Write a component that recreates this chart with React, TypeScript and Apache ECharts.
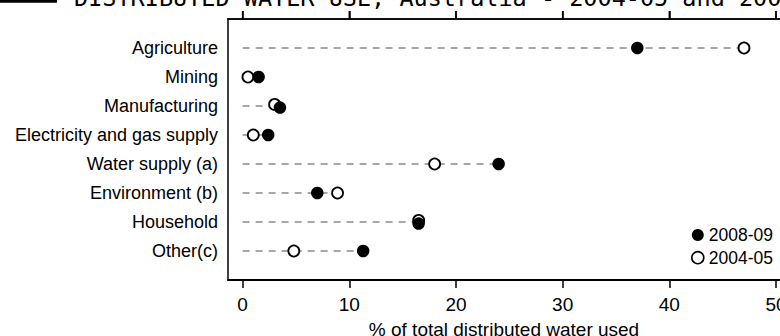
import React, { useEffect, useRef } from "react";
import * as echarts from "echarts";

// Share of total distributed water used, by sector
const categories = [
  "Agriculture",
  "Mining",
  "Manufacturing",
  "Electricity and gas supply",
  "Water supply (a)",
  "Environment (b)",
  "Household",
  "Other(c)",
];
const use200809 = [37.0, 1.5, 3.5, 2.4, 24.0, 7.0, 16.5, 11.3];
const use200405 = [47.0, 0.5, 3.0, 1.0, 18.0, 8.9, 16.5, 4.8];
const xTicks = [0, 10, 20, 30, 40, 50];

const TITLE = "DISTRIBUTED WATER USE, Australia - 2004-05 and 2008-09";
const X_MIN = -1.37;
const X_MAX = 50.375;
const GRID_LEFT = 228;
const GRID_TOP = 19;
const GRID_WIDTH = 552;
const GRID_HEIGHT = 261;
const TICK_LEN = 8;
// nearly coincident points are drawn a little apart vertically
const NUDGE = 0.055;

function rowOffset(i: number): number {
  return Math.abs(use200809[i] - use200405[i]) < 0.8 ? NUDGE : 0;
}

export default function App() {
  const ref = useRef<HTMLDivElement>(null);

  useEffect(() => {
    if (!ref.current) return;
    const chart = echarts.init(ref.current, null, { renderer: "svg" });

    const option: any = {
      animation: false,
      textStyle: { fontFamily: "Liberation Sans" },
      grid: {
        left: GRID_LEFT,
        top: GRID_TOP,
        width: GRID_WIDTH,
        height: GRID_HEIGHT,
        containLabel: false,
        outerBoundsMode: "none",
      },
      graphic: [
        {
          type: "rect",
          id: "titleBar",
          silent: true,
          shape: { x: 0, y: 0, width: 57, height: 2.7 },
          style: { fill: "#000" },
        },
        {
          type: "text",
          id: "title",
          x: 74,
          y: -2.5,
          silent: true,
          style: {
            text: TITLE,
            fontSize: 23.5,
            fontFamily: "DejaVu Sans Mono",
            fill: "#000",
            align: "left",
            verticalAlign: "middle",
          },
        },
      ],
      xAxis: [
        {
          type: "value",
          position: "bottom",
          min: X_MIN,
          max: X_MAX,
          axisLine: { show: true, onZero: false, lineStyle: { color: "#000", width: 2 } },
          axisTick: {
            show: true,
            customValues: xTicks,
            length: TICK_LEN,
            lineStyle: { color: "#000", width: 1.5 },
          },
          axisLabel: {
            customValues: xTicks,
            color: "#000",
            fontSize: 19,
            margin: 15,
            fontFamily: "Liberation Sans",
          },
          splitLine: { show: false },
          name: "% of total distributed water used",
          nameLocation: "middle",
          nameGap: 40,
          nameTextStyle: { fontSize: 19, color: "#000", fontFamily: "Liberation Sans" },
        },
        {
          type: "value",
          position: "top",
          min: X_MIN,
          max: X_MAX,
          axisLine: { show: true, onZero: false, lineStyle: { color: "#000", width: 1.5 } },
          axisTick: {
            show: true,
            customValues: xTicks,
            length: TICK_LEN,
            lineStyle: { color: "#000", width: 1.5 },
          },
          axisLabel: { show: false, customValues: xTicks },
          splitLine: { show: false },
        },
      ],
      yAxis: {
        type: "value",
        min: 0,
        max: categories.length + 1,
        interval: 1,
        inverse: true,
        axisLine: { show: true, onZero: false, lineStyle: { color: "#000", width: 1.5 } },
        axisTick: { show: false },
        splitLine: { show: false },
        axisLabel: {
          color: "#000",
          fontSize: 18,
          margin: 10,
          padding: [4, 0, 0, 0],
          fontFamily: "Liberation Sans",
          formatter: (v: number) => categories[v - 1] ?? "",
        },
      },
      legend: {
        orient: "vertical",
        left: 691,
        top: 226,
        padding: 0,
        itemWidth: 12,
        itemHeight: 12,
        itemGap: 4.7,
        icon: "circle",
        textStyle: { fontSize: 17.5, color: "#000", lineHeight: 18, fontFamily: "Liberation Sans" },
        data: [
          { name: "2008-09", itemStyle: { color: "#000" } },
          {
            name: "2004-05",
            itemStyle: { color: "#fff", borderColor: "#000", borderWidth: 1.6 },
          },
        ],
      },
      series: [
        {
          // keeps the top axis bound to data so it is laid out and drawn
          type: "scatter",
          name: "frame",
          xAxisIndex: 1,
          silent: true,
          symbolSize: 0,
          itemStyle: { opacity: 0 },
          data: categories.map((_, i) => [Math.max(use200809[i], use200405[i]), i + 1]),
          z: 0,
        },
        {
          // dashed guide from zero to the larger of the two values
          type: "custom",
          name: "guide",
          silent: true,
          xAxisIndex: 0,
          encode: { x: 0, y: 1 },
          data: categories.map((_, i) => [Math.max(use200809[i], use200405[i]), i + 1]),
          renderItem: (_params: any, api: any) => {
            const row = api.value(1);
            const end = api.value(0);
            const p0 = api.coord([0, row]);
            const p1 = api.coord([end, row]);
            return {
              type: "line",
              shape: { x1: p0[0], y1: p0[1], x2: p1[0], y2: p1[1] },
              style: { stroke: "#8a8a8a", lineWidth: 1.5, lineDash: [7, 6] },
            };
          },
          z: 1,
        },
        {
          type: "scatter",
          name: "2004-05",
          xAxisIndex: 0,
          symbol: "circle",
          symbolSize: 11,
          itemStyle: { color: "#fff", borderColor: "#000", borderWidth: 1.8, opacity: 1 },
          data: use200405.map((v, i) => [v, i + 1 - rowOffset(i)]),
          z: 2,
        },
        {
          type: "scatter",
          name: "2008-09",
          xAxisIndex: 0,
          symbol: "circle",
          symbolSize: 12.5,
          itemStyle: { color: "#000", opacity: 1 },
          data: use200809.map((v, i) => [v, i + 1 + rowOffset(i)]),
          z: 3,
        },
      ],
    };

    chart.setOption(option);

    // Upper frame edge and its outward ticks, placed through the x axis scale
    // (drawn on the same pixels as the top axis).
    const toX = (v: number): number => {
      const p = chart.convertToPixel({ xAxisIndex: 0 } as any, v) as any;
      const n = Array.isArray(p) ? p[0] : p;
      return Number.isFinite(n)
        ? n
        : GRID_LEFT + ((v - X_MIN) / (X_MAX - X_MIN)) * GRID_WIDTH;
    };
    const rawTop = chart.convertToPixel({ yAxisIndex: 0 } as any, 0) as any;
    const topY = Number.isFinite(rawTop) ? rawTop : GRID_TOP;
    const leftX = toX(X_MIN);
    const rightX = toX(X_MAX);

    const frame: any[] = [
      {
        type: "rect",
        id: "frameTop",
        z: 100,
        silent: true,
        shape: { x: leftX - 0.75, y: topY - 0.75, width: rightX - leftX + 0.75, height: 1.5 },
        style: { fill: "#000" },
      },
      ...xTicks.map((v, k) => ({
        type: "rect",
        id: "frameTick" + k,
        z: 100,
        silent: true,
        shape: { x: toX(v) - 0.75, y: topY - TICK_LEN, width: 1.5, height: TICK_LEN },
        style: { fill: "#000" },
      })),
    ];

    chart.setOption({ graphic: frame } as any);

    return () => chart.dispose();
  }, []);

  return (
    <div
      ref={ref}
      style={{ position: "absolute", left: 0, top: 0, width: 780, height: 336 }}
    />
  );
}
